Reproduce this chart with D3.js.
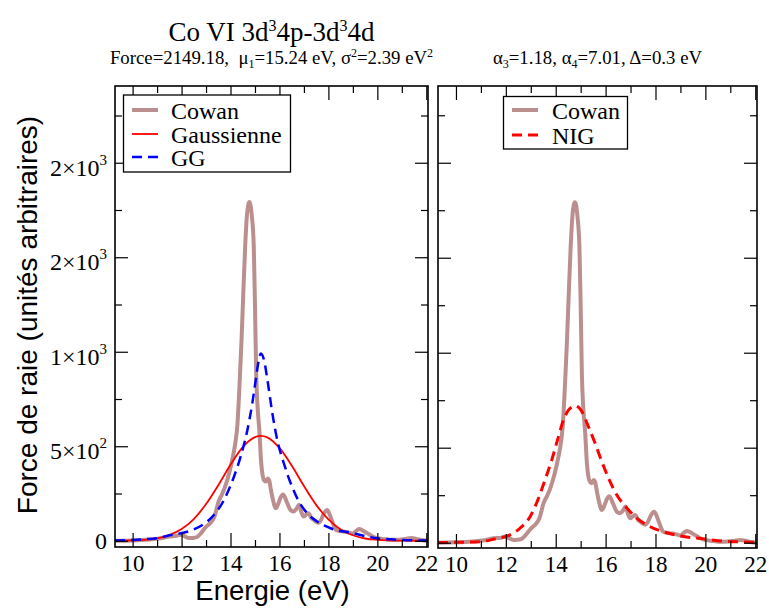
<!DOCTYPE html>
<html><head><meta charset="utf-8">
<script src="https://cdn.jsdelivr.net/npm/d3@7"></script>
<style>body{margin:0;background:#fff}svg{display:block}</style>
</head><body><svg id="c" width="769" height="610"></svg>
<script>
// ---- data ----
const cowanE = [9.28,10.0,10.5,10.96,11.3,11.5,11.75,11.97,12.15,12.3,12.45,12.63,12.78,12.9,13.05,13.17,13.35,13.51,13.65,13.78,13.95,14.11,14.2,14.28,14.38,14.45,14.52,14.6,14.67,14.73,14.77,14.81,14.87,14.95,15.0,15.05,15.1,15.14,15.18,15.25,15.31,15.38,15.45,15.52,15.58,15.65,15.72,15.85,15.95,16.05,16.15,16.3,16.45,16.58,16.7,16.8,16.9,16.99,17.1,17.19,17.3,17.39,17.5,17.59,17.7,17.8,17.95,18.05,18.13,18.22,18.3,18.45,18.6,18.8,19.0,19.12,19.25,19.35,19.47,19.65,19.8,20.0,20.2,20.4,20.6,20.9,21.15,21.4,21.6,21.8,22.07];
const cowanF = [0,2,5,10,17,23,25,32,22,14,15,20,38,58,80,93,130,207,245,286,360,453,520,611,856,1060,1300,1560,1720,1780,1792,1780,1720,1560,1250,880,720,646,580,418,347,318,313,330,320,270,225,172,195,230,245,205,163,155,170,190,150,128,140,146,120,111,100,95,110,140,163,140,111,80,58,52,49,45,38,50,62,58,49,35,23,14,10,7,5,6,10,14,10,4,0];
const gaussE = [9.28,10,10.5,11,11.5,12,12.5,13,13.5,14,14.5,15,15.24,15.5,16,16.5,17,17.5,18,18.5,19,19.5,20,20.5,21,21.5,22.07];
const gaussF = [0,2,5,13,30,62,115,194,294,402,495,548,555,547,491,398,290,190,113,60,29,12,5,2,0.5,0,0];
const ggE = [9.28,10.0,10.5,11.0,11.55,12.23,12.85,13.32,13.73,14.14,14.41,14.69,14.89,15.03,15.12,15.24,15.37,15.51,15.71,15.91,16.18,16.46,16.8,17.14,17.55,18.09,18.91,19.5,20.0,20.5,21.0,21.5,22.07];
const ggF = [2,4,8,14,30,48,83,136,215,339,444,586,727,850,930,991,956,850,674,533,410,304,206,145,101,66,42,25,13,8,4,2,1];
const nigE = [9.28,10.0,10.5,10.96,11.5,12.17,12.57,12.97,13.31,13.57,13.84,14.11,14.31,14.51,14.65,14.78,14.92,15.05,15.31,15.58,15.85,16.12,16.45,16.86,17.26,17.79,18.39,19.0,19.93,20.7,21.4,22.07];
const nigF = [1,2,3,5,18,41,76,137,234,330,435,558,646,698,715,721,712,690,611,523,426,339,251,181,128,84,55,35,20,8,4,2];

const xTicks = [10,12,14,16,18,20,22];
const xMinor = [11,13,15,17,19,21];
const yTicks = [0,500,1000,1500,2000];
const yMinor = [250,750,1250,1750,2250];
const yTickLabels = ["0","5×10^2","1×10^3","2×10^3","2×10^3"];

const legendLeft = ["Cowan","Gaussienne","GG"];
const legendRight = ["Cowan","NIG"];

// ---- styles ----
const SERIF = "'Liberation Serif','Times New Roman',serif";
const SANS = "'Liberation Sans',Arial,Helvetica,sans-serif";
const COWAN = "#bc8f8f";

const svg = d3.select("#c");

const panels = [
  {id:"p1", x0:115, x1:428, y0:86, y1:547, yd:[-33,2406], yLabels:true,
   series:[
     {e:cowanE,f:cowanF,color:COWAN,w:4,dash:null},
     {e:gaussE,f:gaussF,color:"#ff0000",w:1.8,dash:null},
     {e:ggE,f:ggF,color:"#0000ff",w:2.5,dash:"10,6"}],
   legend:{x:123.5,y:95,w:167,h:77,names:legendLeft,rows:[110,134,157],lx0:132,lx1:158,tx:171}},
  {id:"p2", x0:438, x1:757, y0:86, y1:548, yd:[-28,2404], yLabels:false,
   series:[
     {e:cowanE,f:cowanF,color:COWAN,w:4,dash:null},
     {e:nigE,f:nigF,color:"#ff0000",w:3,dash:"10,6"}],
   legend:{x:503.5,y:96.5,w:124,h:52.5,names:legendRight,rows:[110,135],lx0:512,lx1:538,tx:552}}
];

panels.forEach(p => {
  const x = d3.scaleLinear().domain([9.28,22.07]).range([p.x0,p.x1]);
  const y = d3.scaleLinear().domain(p.yd).range([p.y1,p.y0]);

  svg.append("clipPath").attr("id","clip-"+p.id)
    .append("rect").attr("x",p.x0).attr("y",p.y0).attr("width",p.x1-p.x0).attr("height",p.y1-p.y0);

  const g = svg.append("g");
  const line = d3.line().x(d=>x(d[0])).y(d=>y(d[1])).curve(d3.curveMonotoneX);
  const cg = g.append("g").attr("clip-path","url(#clip-"+p.id+")");
  p.series.forEach(s => {
    const pts = s.e.map((e,i)=>[e,s.f[i]]);
    cg.append("path").attr("d",line(pts)).attr("fill","none")
      .attr("stroke",s.color).attr("stroke-width",s.w)
      .attr("stroke-linejoin","round").attr("stroke-linecap","butt")
      .attr("stroke-dasharray",s.dash);
  });

  // axes (inward ticks)
  const style = sel => { sel.select(".domain").remove(); sel.selectAll("line").attr("stroke","#000").attr("stroke-width",1.2); };
  const bx = g.append("g").attr("transform",`translate(0,${p.y1})`)
    .call(d3.axisBottom(x).tickValues(xTicks).tickSizeInner(-14).tickSizeOuter(0).tickPadding(8).tickFormat(d3.format("d")));
  style(bx);
  bx.attr("font-family",SERIF).attr("font-size",23);
  bx.selectAll("text").attr("font-family",SERIF).attr("font-size",23).attr("fill","#000");
  style(g.append("g").attr("transform",`translate(0,${p.y1})`)
    .call(d3.axisBottom(x).tickValues(xMinor).tickSizeInner(-7).tickSizeOuter(0).tickFormat("")));
  style(g.append("g").attr("transform",`translate(0,${p.y0})`)
    .call(d3.axisTop(x).tickValues(xTicks).tickSizeInner(-14).tickSizeOuter(0).tickFormat("")));
  style(g.append("g").attr("transform",`translate(0,${p.y0})`)
    .call(d3.axisTop(x).tickValues(xMinor).tickSizeInner(-7).tickSizeOuter(0).tickFormat("")));
  const ly = g.append("g").attr("transform",`translate(${p.x0},0)`)
    .call(d3.axisLeft(y).tickValues(yTicks).tickSizeInner(-13).tickSizeOuter(0).tickFormat(""));
  style(ly);
  style(g.append("g").attr("transform",`translate(${p.x0},0)`)
    .call(d3.axisLeft(y).tickValues(yMinor).tickSizeInner(-7).tickSizeOuter(0).tickFormat("")));
  style(g.append("g").attr("transform",`translate(${p.x1},0)`)
    .call(d3.axisRight(y).tickValues(yTicks).tickSizeInner(-13).tickSizeOuter(0).tickFormat("")));
  style(g.append("g").attr("transform",`translate(${p.x1},0)`)
    .call(d3.axisRight(y).tickValues(yMinor).tickSizeInner(-7).tickSizeOuter(0).tickFormat("")));

  if (p.yLabels) {
    yTicks.forEach((v,i) => {
      const lab = yTickLabels[i];
      const parts = lab.split("^");
      const t = g.append("text").attr("x",p.x0-8).attr("y",y(v)+(parts.length>1?13:8))
        .attr("text-anchor","end").attr("font-family",SERIF).attr("font-size",24).attr("fill","#000");
      t.append("tspan").text(parts[0]);
      if (parts.length>1) t.append("tspan").attr("font-size",15).attr("dy",-11).text(parts[1]);
    });
  }

  // frame
  g.append("rect").attr("x",p.x0).attr("y",p.y0).attr("width",p.x1-p.x0).attr("height",p.y1-p.y0)
    .attr("fill","none").attr("stroke","#000").attr("stroke-width",1.6);

  // legend
  const L = p.legend;
  g.append("rect").attr("x",L.x).attr("y",L.y).attr("width",L.w).attr("height",L.h)
    .attr("fill","#fff").attr("stroke","#000").attr("stroke-width",1.3);
  L.names.forEach((n,i) => {
    const s = p.series[i];
    g.append("line").attr("x1",L.lx0).attr("x2",L.lx1).attr("y1",L.rows[i]).attr("y2",L.rows[i])
      .attr("stroke",s.color).attr("stroke-width",s.w).attr("stroke-dasharray",s.dash);
    g.append("text").attr("x",L.tx).attr("y",L.rows[i]+8.5).attr("font-family",SERIF).attr("font-size",24)
      .attr("fill","#000").text(n);
  });
});

// titles
function rich(x, y, size, parts, anchor) {
  const t = svg.append("text").attr("x",x).attr("y",y).attr("text-anchor",anchor||"middle")
    .attr("font-family",SERIF).attr("font-size",size).attr("fill","#000")
    .style("white-space","pre");
  let off = 0;
  parts.forEach(pt => {
    const ts = t.append("tspan").text(pt.t);
    const target = pt.sup ? -pt.sup : (pt.sub ? pt.sub : 0);
    if (pt.s) ts.attr("font-size",pt.s);
    if (target !== off) { ts.attr("dy", target-off); off = target; }
  });
  return t;
}
rich(271.5, 40.5, 27, [
  {t:"Co VI 3d"},{t:"3",s:16,sup:10},{t:"4p-3d"},{t:"3",s:16,sup:10},{t:"4d"}]);
rich(271.5, 63.5, 18.8, [
  {t:"Force=2149.18,\u00a0 μ"},{t:"1",s:12,sub:4},{t:"=15.24 eV, σ"},{t:"2",s:12,sup:7},{t:"=2.39 eV"},{t:"2",s:12,sup:7}]);
rich(597.5, 63.5, 18.8, [
  {t:"α"},{t:"3",s:12,sub:4},{t:"=1.18, α"},{t:"4",s:12,sub:4},{t:"=7.01, Δ=0.3 eV"}]);

// axis titles
svg.append("text").attr("x",272.5).attr("y",599.5).attr("text-anchor","middle")
  .attr("font-family",SANS).attr("font-size",27.5).attr("fill","#000").text("Energie (eV)");
svg.append("text").attr("transform","translate(36.5,315) rotate(-90)").attr("text-anchor","middle")
  .attr("font-family",SANS).attr("font-size",28).attr("fill","#000").text("Force de raie (unités arbitraires)");
</script>
</body></html>
